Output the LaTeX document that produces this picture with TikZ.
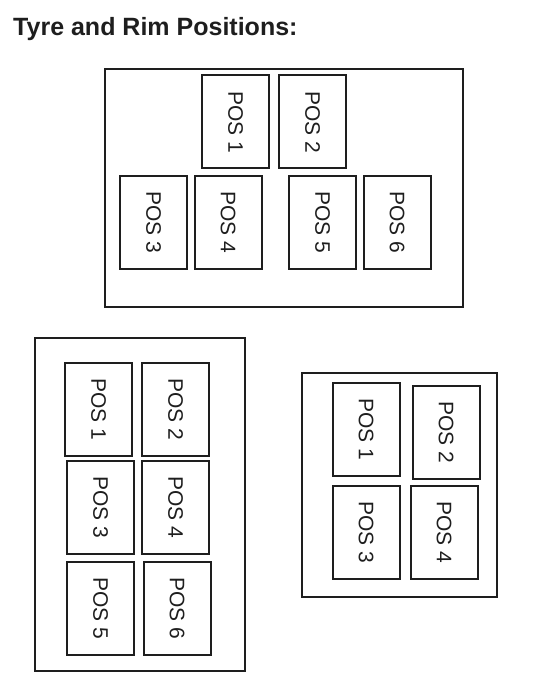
\documentclass[tikz,border=0pt]{standalone}
\usepackage{fontspec}
\setmainfont{Liberation Sans}
\usepackage{xcolor}
\usepackage{tikz}
\usetikzlibrary{positioning}
\definecolor{inkline}{HTML}{1E1E1E}

\begin{document}
\begin{tikzpicture}[
    x=1pt, y=-1pt,
    frame/.style={
        rectangle,
        draw=inkline,
        line width=1.4pt,
        inner sep=0pt
    },
    posbox/.style={
        rectangle,
        draw=inkline,
        line width=2pt,
        rotate=-90,
        minimum width=93pt,
        minimum height=67pt,
        inner sep=0pt,
        text=inkline,
        font=\fontsize{21}{24}\selectfont
    },
    title/.style={
        anchor=base west,
        inner sep=0pt,
        text=inkline,
        font=\fontsize{25}{30}\selectfont\bfseries
    }
]
\useasboundingbox (0,0) rectangle (540,676);

% Title
\node[title] (title) at (13,36) {Tyre and Rim Positions:};

% Top layout - six positions
\node[frame, minimum width=358pt, minimum height=238pt] (frameA) at (284,188) {};
\node[posbox] (a1) at (235.5,122) {POS 1};
\node[posbox] (a2) at (312.5,122) {POS 2};
\node[posbox] (a3) at (153.5,222.5) {POS 3};
\node[posbox] (a4) at (228,222.5) {POS 4};
\node[posbox] (a5) at (322.5,222.5) {POS 5};
\node[posbox] (a6) at (397,222.5) {POS 6};

% Bottom left layout - six positions
\node[frame, minimum width=210pt, minimum height=333pt] (frameB) at (140,504.5) {};
\node[posbox] (b1) at (98.5,409.5) {POS 1};
\node[posbox] (b2) at (175.5,409.5) {POS 2};
\node[posbox] (b3) at (100.5,507) {POS 3};
\node[posbox] (b4) at (175.5,507) {POS 4};
\node[posbox] (b5) at (100.5,608) {POS 5};
\node[posbox] (b6) at (177,608) {POS 6};

% Bottom right layout - four positions
\node[frame, minimum width=195pt, minimum height=224pt] (frameC) at (399.5,485) {};
\node[posbox] (c1) at (366,429.5) {POS 1};
\node[posbox] (c2) at (446,432) {POS 2};
\node[posbox] (c3) at (366,532) {POS 3};
\node[posbox] (c4) at (444,532) {POS 4};

\end{tikzpicture}
\end{document}
